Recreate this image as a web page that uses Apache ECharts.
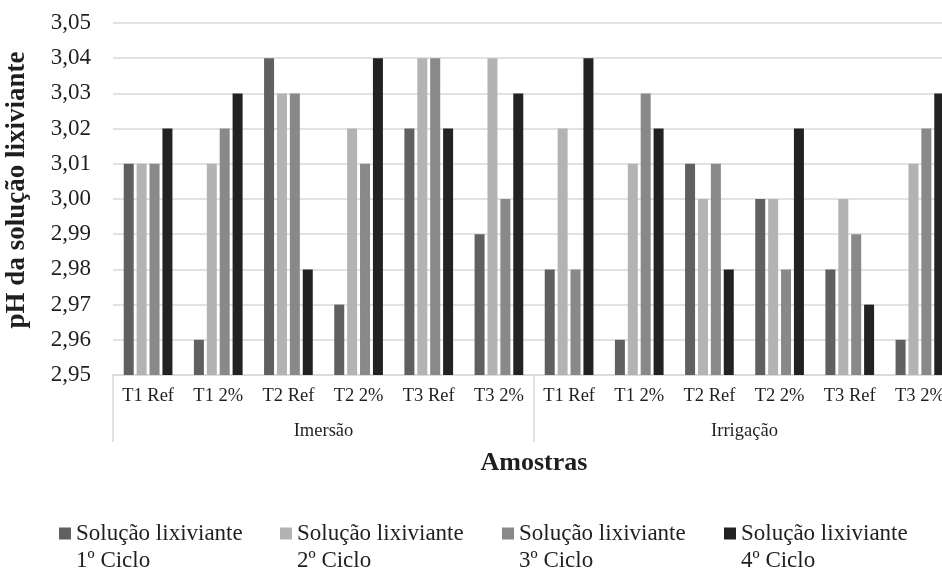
<!DOCTYPE html>
<html>
<head>
<meta charset="utf-8">
<script src="https://cdn.jsdelivr.net/npm/echarts@6/dist/echarts.min.js"></script>
<style>
  html, body { margin: 0; padding: 0; background: #ffffff; }
  #chart { width: 942px; height: 569px; }
</style>
</head>
<body>
<div id="chart"></div>
<script>
// Samples (first level) and treatment method (second level)
const categories = ['T1 Ref', 'T1 2%', 'T2 Ref', 'T2 2%', 'T3 Ref', 'T3 2%',
                    'T1 Ref', 'T1 2%', 'T2 Ref', 'T2 2%', 'T3 Ref', 'T3 2%'];
const groups = ['Imersão', 'Irrigação'];

const seriesNames = [
  'Solução lixiviante\n1º Ciclo',
  'Solução lixiviante\n2º Ciclo',
  'Solução lixiviante\n3º Ciclo',
  'Solução lixiviante\n4º Ciclo'
];

// pH of the leaching solution per cycle
const ciclo1 = [3.01, 2.96, 3.04, 2.97, 3.02, 2.99, 2.98, 2.96, 3.01, 3.00, 2.98, 2.96];
const ciclo2 = [3.01, 3.01, 3.03, 3.02, 3.04, 3.04, 3.02, 3.01, 3.00, 3.00, 3.00, 3.01];
const ciclo3 = [3.01, 3.02, 3.03, 3.01, 3.04, 3.00, 2.98, 3.03, 3.01, 2.98, 2.99, 3.02];
const ciclo4 = [3.02, 3.03, 2.98, 3.04, 3.02, 3.03, 3.04, 3.02, 2.98, 3.02, 2.97, 3.03];

const yMin = 2.95, yMax = 3.05, yStep = 0.01;

const colors = ['#606060', '#b3b3b3', '#898989', '#222222'];
const values = [ciclo1, ciclo2, ciclo3, ciclo4];

const FONT = '"Liberation Serif", "Times New Roman", serif';
const TEXT = '#1f1f1f';
const LINE = '#d9d9d9';

const legendLeft = [59, 280, 502, 724];

const chart = echarts.init(document.getElementById('chart'), null, { renderer: 'canvas' });

chart.setOption({
  animation: false,
  color: colors,
  // the plot runs a little past the right edge of the page
  grid: {
    left: 113, width: 842, top: 23, bottom: 194,
    containLabel: false, outerBoundsMode: 'none'
  },
  legend: seriesNames.map((name, i) => ({
    data: [name],
    left: legendLeft[i],
    top: 493,
    padding: 0,
    itemWidth: 12,
    itemHeight: 12,
    itemGap: 5,
    icon: 'rect',
    selectedMode: false,
    // an empty leading line keeps the swatch level with the first text line
    formatter: n => '\n' + n,
    textStyle: { fontFamily: FONT, fontSize: 23, color: TEXT, lineHeight: 27 }
  })),
  xAxis: [
    {
      type: 'category',
      data: categories,
      position: 'bottom',
      axisLine: { show: true, lineStyle: { color: LINE, width: 1.5 } },
      axisTick: { show: false },
      axisLabel: { interval: 0, margin: 12, fontFamily: FONT, fontSize: 18.5, color: TEXT }
    },
    {
      type: 'category',
      data: groups,
      position: 'bottom',
      axisLine: { show: false },
      axisTick: { show: true, length: 67, lineStyle: { color: LINE, width: 1.5 } },
      axisLabel: { interval: 0, margin: 47, fontFamily: FONT, fontSize: 18.5, color: TEXT },
      name: 'Amostras',
      nameLocation: 'middle',
      nameGap: 88,
      nameTextStyle: { fontFamily: FONT, fontSize: 26, fontWeight: 'bold', color: TEXT, verticalAlign: 'middle' }
    }
  ],
  yAxis: {
    type: 'value',
    min: yMin,
    max: yMax,
    interval: yStep,
    startValue: yMin,
    axisLine: { show: false },
    axisTick: { show: false },
    splitLine: { show: true, lineStyle: { color: LINE, width: 1.5 } },
    axisLabel: {
      margin: 22, fontFamily: FONT, fontSize: 23, color: TEXT,
      formatter: v => v.toFixed(2).replace('.', ',')
    },
    name: 'pH da solução lixiviante',
    nameLocation: 'middle',
    nameGap: 96,
    nameRotate: 90,
    nameTextStyle: {
      fontFamily: FONT, fontSize: 27, fontWeight: 'bold', color: TEXT,
      verticalAlign: 'middle', padding: [0, 0, 0, 18]
    }
  },
  series: seriesNames.map((name, i) => ({
    name: name,
    type: 'bar',
    xAxisIndex: 0,
    data: values[i],
    barWidth: 10,
    barGap: '29%',
    clip: true,
    itemStyle: { color: colors[i] }
  }))
});
</script>
</body>
</html>
